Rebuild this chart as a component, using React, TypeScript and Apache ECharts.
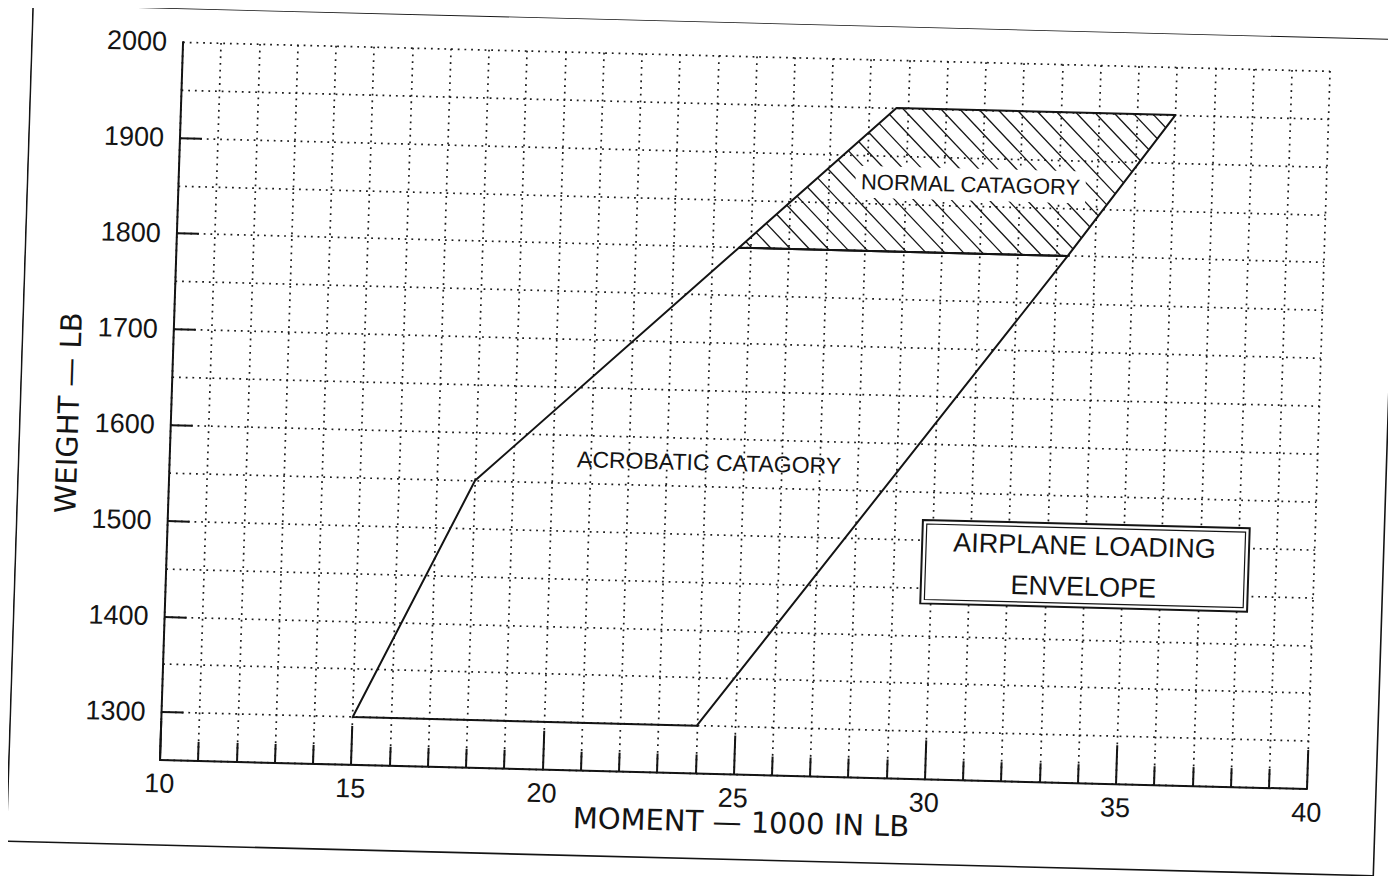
import React, { useEffect, useRef } from "react";
import * as echarts from "echarts";

// ---- data ----
const momentLabels = [10, 15, 20, 25, 30, 35, 40];
const weightLabels = [1300, 1400, 1500, 1600, 1700, 1800, 1900, 2000];
const weightTicks = [1300, 1400, 1500, 1600, 1700, 1800, 1900];

const acrobaticMoment = [15, 18, 24.7, 33.3, 24, 15];
const acrobaticWeight = [1300, 1550, 1800, 1800, 1300, 1300];

const normalMoment = [24.7, 28.7, 36, 33.3, 24.7];
const normalWeight = [1800, 1950, 1950, 1800, 1800];

const regionNames = ["ACROBATIC CATAGORY", "NORMAL CATAGORY"];
const regionLabelMoment = [24.1, 30.7];
const regionLabelWeight = [1575, 1872];

const boxLines = ["AIRPLANE LOADING", "ENVELOPE"];

const xTitle = "MOMENT — 1000 IN LB";
const yTitle = "WEIGHT — LB";

export default function App() {
  const ref = useRef<HTMLDivElement>(null);

  useEffect(() => {
    if (!ref.current) return;
    const chart = echarts.init(ref.current, null, { renderer: "svg" });
    const ink = "#141414";
    const dotted = { color: "#1c1c1c", width: 1.7, type: [1.8, 4.9] };
    const numFont = "'Liberation Sans', Arial, sans-serif";
    const titleFont = "'DejaVu Sans', 'Liberation Sans', sans-serif";
    const pairs = (xs: number[], ys: number[]) => xs.map((x, i) => [x, ys[i]]);

    const hatchStep = 19.3;

    chart.setOption({
      animation: false,
      backgroundColor: "#ffffff",
      grid: {
        left: 152,
        top: 33.6,
        width: 1147,
        height: 718.4,
        containLabel: false,
        outerBoundsMode: "none",
      },
      xAxis: {
        type: "value",
        min: 10,
        max: 40,
        interval: 5,
        position: "bottom",
        axisLine: { show: true, onZero: false, lineStyle: { color: ink, width: 2 } },
        axisTick: { show: true, inside: true, length: 39, lineStyle: { color: ink, width: 2 } },
        minorTick: { show: true, splitNumber: 5, length: 19, lineStyle: { color: ink, width: 2 } },
        splitLine: { show: true, lineStyle: dotted },
        minorSplitLine: { show: true, lineStyle: dotted },
        axisLabel: {
          margin: 10,
          fontSize: 27,
          fontFamily: numFont,
          color: ink,
          formatter: (v: number) => (momentLabels.includes(v) ? String(v) : ""),
        },
        name: xTitle,
        nameLocation: "middle",
        nameGap: 33,
        nameMoveOverlap: false,
        nameTextStyle: {
          fontFamily: titleFont,
          fontSize: 29,
          color: ink,
          padding: [0, 0, 0, 18],
        },
      },
      yAxis: [
        {
          type: "value",
          min: 1250,
          max: 2000,
          interval: 50,
          position: "left",
          axisLine: { show: true, onZero: false, lineStyle: { color: ink, width: 2 } },
          axisTick: { show: false },
          splitLine: { show: true, lineStyle: dotted },
          axisLabel: {
            margin: 16,
            fontSize: 27,
            fontFamily: numFont,
            color: ink,
            formatter: (v: number) => (weightLabels.includes(v) ? String(v) : ""),
          },
          name: yTitle,
          nameLocation: "middle",
          nameRotate: 90,
          nameGap: 88,
          nameMoveOverlap: false,
          nameTextStyle: {
            fontFamily: titleFont,
            fontSize: 29,
            color: ink,
            padding: [0, 29, 0, 0],
          },
        },
        {
          type: "value",
          min: 1250,
          max: 2000,
          interval: 50,
          position: "left",
          axisLine: { show: false },
          splitLine: { show: false },
          axisLabel: { show: false },
          axisTick: {
            show: true,
            inside: true,
            length: 22,
            customValues: weightTicks,
            lineStyle: { color: ink, width: 2 },
          },
        },
      ],
      series: [
        {
          name: "Normal category hatch",
          type: "custom",
          z: 2,
          data: pairs(normalMoment, normalWeight),
          renderItem: (params: any, api: any) => {
            if (params.dataIndex !== 0) return null;
            const pts = normalMoment.map((m, i) => api.coord([m, normalWeight[i]]));
            const cs = pts.map((p: number[]) => p[1] - p[0]);
            const cmin = Math.min(...cs);
            const cmax = Math.max(...cs);
            const children: any[] = [];
            for (let c = Math.ceil(cmin / hatchStep) * hatchStep; c < cmax; c += hatchStep) {
              const xs: number[] = [];
              for (let i = 0; i < pts.length - 1; i++) {
                const p = pts[i];
                const q = pts[i + 1];
                const fp = p[1] - p[0] - c;
                const fq = q[1] - q[0] - c;
                if (fp === fq) continue;
                if (fp * fq <= 0) {
                  const t = fp / (fp - fq);
                  xs.push(p[0] + t * (q[0] - p[0]));
                }
              }
              if (xs.length >= 2) {
                const x1 = Math.min(...xs);
                const x2 = Math.max(...xs);
                children.push({
                  type: "line",
                  shape: { x1, y1: x1 + c, x2, y2: x2 + c },
                  style: { stroke: ink, lineWidth: 1.3 },
                });
              }
            }
            return { type: "group", children };
          },
        },
        {
          name: "Acrobatic category",
          type: "line",
          z: 3,
          symbol: "none",
          data: pairs(acrobaticMoment, acrobaticWeight),
          lineStyle: { color: ink, width: 2 },
        },
        {
          name: "Normal category",
          type: "line",
          z: 3,
          symbol: "none",
          data: pairs(normalMoment, normalWeight),
          lineStyle: { color: ink, width: 2 },
        },
        {
          name: "Region labels",
          type: "custom",
          z: 5,
          data: pairs(regionLabelMoment, regionLabelWeight),
          renderItem: (params: any, api: any) => {
            const p = api.coord([api.value(0), api.value(1)]);
            const idx = params.dataIndex;
            return {
              type: "text",
              x: p[0],
              y: p[1],
              style: {
                text: regionNames[idx],
                fontSize: idx === 0 ? 23 : 22,
                fontFamily: numFont,
                fill: ink,
                align: "center",
                verticalAlign: "middle",
                backgroundColor: idx === 1 ? "#ffffff" : undefined,
                padding: idx === 1 ? [5, 5] : 0,
              },
            };
          },
        },
      ],
      graphic: [
        {
          type: "rect",
          silent: true,
          z: 0,
          shape: { x: 1, y: 0, width: 1367, height: 837 },
          style: { fill: "none", stroke: ink, lineWidth: 1.6 },
        },
        {
          type: "rect",
          silent: true,
          z: 100,
          shape: { x: 906.6, y: 492.7, width: 326.8, height: 83.5 },
          style: { fill: "#ffffff", stroke: ink, lineWidth: 2 },
        },
        {
          type: "rect",
          silent: true,
          z: 101,
          shape: { x: 910.6, y: 496.7, width: 318.8, height: 75.5 },
          style: { fill: "none", stroke: ink, lineWidth: 1.2 },
        },
        {
          type: "text",
          silent: true,
          z: 102,
          x: 1069,
          y: 535,
          style: {
            text: boxLines.join("\n"),
            fontSize: 27,
            fontFamily: numFont,
            lineHeight: 41,
            fill: ink,
            align: "center",
            verticalAlign: "middle",
          },
        },
      ],
    });

    return () => chart.dispose();
  }, []);

  return (
    <div style={{ width: 1388, height: 868, overflow: "hidden", background: "#fff" }}>
      <div
        ref={ref}
        style={{
          width: 1380,
          height: 860,
          transformOrigin: "152px 752px",
          transform: "matrix(1, 0.0253, -0.0321, 0.9995, 0, 0)",
        }}
      />
    </div>
  );
}
